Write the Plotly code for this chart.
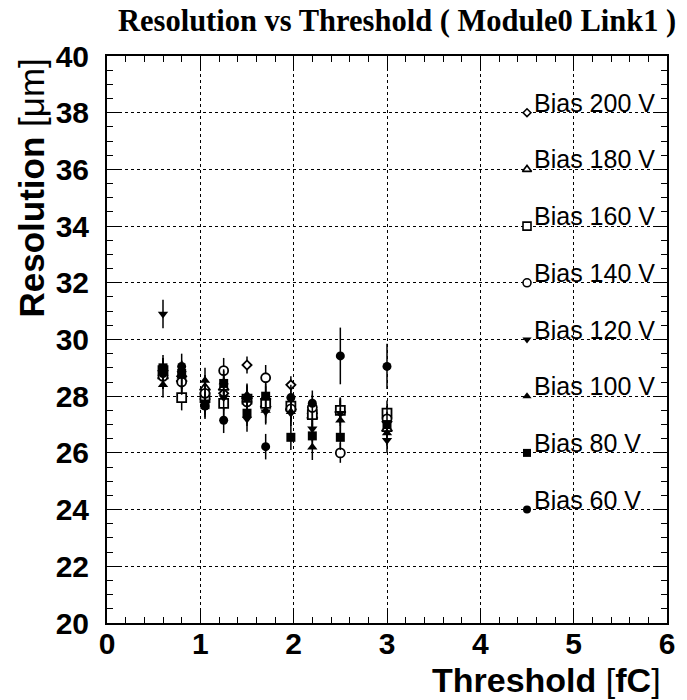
import plotly.graph_objects as go

thresholds = [0.6, 0.8, 1.05, 1.25, 1.5, 1.7, 1.97, 2.2, 2.5, 3.0]

res_200 = [28.9, 28.7, 27.9, 28.1, 29.1, 27.9, 28.4, 27.4, 27.45, 27.1]
res_180 = [28.7, 28.6, 28.3, 28.3, 28.0, 27.7, 27.6, 27.3, 27.5, 26.85]
res_160 = [28.9, 27.95, 27.95, 27.75, 27.9, 27.75, 27.65, 27.35, 27.5, 27.4]
res_140 = [28.7, 28.5, 28.1, 28.9, 27.8, 28.65, 27.55, 27.6, 26.0, 27.2]
res_120 = [30.9, 28.8, 27.8, 27.95, 27.2, 27.45, 27.4, 26.85, 27.4, 26.45]
res_100 = [28.4, 28.7, 28.55, 28.5, 27.85, 27.5, 27.45, 26.2, 27.15, 26.7]
res_80 = [29.0, 28.8, 27.7, 28.45, 27.4, 28.0, 26.55, 26.6, 26.55, 27.0]
res_60 = [28.8, 29.05, 27.65, 27.15, 27.95, 26.22, 27.95, 27.75, 29.42, 29.05]

err_200 = [0.45, 0.45, 0.45, 0.45, 0.3, 0.45, 0.3, 0.45, 0.45, 0.45]
err_180 = [0.45] * 10
err_160 = [0.45] * 10
err_140 = [0.45, 0.45, 0.45, 0.45, 0.45, 0.45, 0.45, 0.45, 0.35, 0.45]
err_120 = [0.5, 0.45, 0.45, 0.45, 0.45, 0.45, 0.45, 0.45, 0.45, 0.45]
err_100 = [0.45] * 10
err_80 = [0.45] * 10
err_60 = [0.45, 0.45, 0.45, 0.45, 0.45, 0.45, 0.45, 0.45, 1.0, 0.8]

bias_labels = ["Bias 200 V", "Bias 180 V", "Bias 160 V", "Bias 140 V",
               "Bias 120 V", "Bias 100 V", "Bias 80 V", "Bias 60 V"]
label_y = [38, 36, 34, 32, 30, 28, 26, 24]
label_x = 4.5

series = [res_200, res_180, res_160, res_140, res_120, res_100, res_80, res_60]
errors = [err_200, err_180, err_160, err_140, err_120, err_100, err_80, err_60]
symbols = ["diamond", "triangle-up", "square", "circle",
           "triangle-down", "triangle-up", "square", "circle"]
filled = [False, False, False, False, True, True, True, True]
sizes = [7, 9, 9, 9, 9, 9, 9, 9]

fig = go.Figure()

for vals, errs, sym, fil, sz in zip(series, errors, symbols, filled, sizes):
    fig.add_trace(go.Scatter(
        x=thresholds, y=vals, mode="markers",
        error_y=dict(type="data", array=errs, color="black", thickness=1.5, width=0),
        marker=dict(symbol=sym, size=sz,
                    color="black" if fil else "white",
                    line=dict(color="black", width=0 if fil else 1.8)),
        showlegend=False, hoverinfo="skip"))

for lbl, ly, sym, fil, sz in zip(bias_labels, label_y, symbols, filled, sizes):
    fig.add_trace(go.Scatter(
        x=[label_x], y=[ly], mode="markers",
        marker=dict(symbol=sym, size=sz - 1,
                    color="black" if fil else "white",
                    line=dict(color="black", width=0 if fil else 1.6)),
        showlegend=False, hoverinfo="skip"))
    fig.add_annotation(x=label_x, y=ly, xref="x", yref="y", text=lbl,
                       showarrow=False, xanchor="left", yanchor="bottom",
                       xshift=5, yshift=-6,
                       font=dict(family="Liberation Sans, Arial", size=25, color="black"))

fig.update_xaxes(range=[0, 6], dtick=1, tick0=0, ticks="inside", ticklen=12, tickwidth=1,
                 tickcolor="black", mirror="allticks", showline=True, linecolor="black",
                 linewidth=2, showgrid=True, gridcolor="black", gridwidth=1, griddash="dot",
                 zeroline=False,
                 tickfont=dict(family="Liberation Sans, Arial", size=30, color="black", weight="bold"),
                 ticklabelstandoff=-7,
                 minor=dict(dtick=0.2, ticks="inside", ticklen=6, tickcolor="black", showgrid=False))
fig.update_yaxes(range=[20, 40], dtick=2, tick0=20, ticks="inside", ticklen=12, tickwidth=1,
                 tickcolor="black", mirror="allticks", showline=True, linecolor="black",
                 linewidth=2, showgrid=True, gridcolor="black", gridwidth=1, griddash="dot",
                 zeroline=False,
                 tickfont=dict(family="Liberation Sans, Arial", size=30, color="black", weight="bold"),
                 ticklabelstandoff=10,
                 minor=dict(dtick=0.5, ticks="inside", ticklen=6, tickcolor="black", showgrid=False))

fig.add_annotation(x=1.0, y=0.0, xref="paper", yref="paper",
                   text="<b>Threshold </b>[<b>fC</b>]", showarrow=False,
                   xanchor="right", yanchor="middle", yshift=-57, xshift=-4,
                   font=dict(family="Liberation Sans, Arial", size=34, color="black"))
fig.add_annotation(x=0.0, y=1.0, xref="paper", yref="paper",
                   text="<b>Resolution </b>[μm]", showarrow=False, textangle=-90,
                   xanchor="center", yanchor="top", xshift=-76, yshift=-1,
                   font=dict(family="Liberation Sans, Arial", size=35, color="black"))

fig.update_layout(
    width=687, height=700,
    margin=dict(l=107, r=13, t=56, b=77),
    paper_bgcolor="white", plot_bgcolor="white",
    title=dict(text="<b>Resolution vs Threshold ( Module0 Link1 )</b>",
               x=0.578, xanchor="center", y=0.971, yanchor="middle",
               font=dict(family="Liberation Serif, Times New Roman", size=30.5, color="black")),
)

fig.write_html("out.html", config={"displayModeBar": False},
               post_script="document.body.style.margin='0';document.body.style.overflow='hidden';")
